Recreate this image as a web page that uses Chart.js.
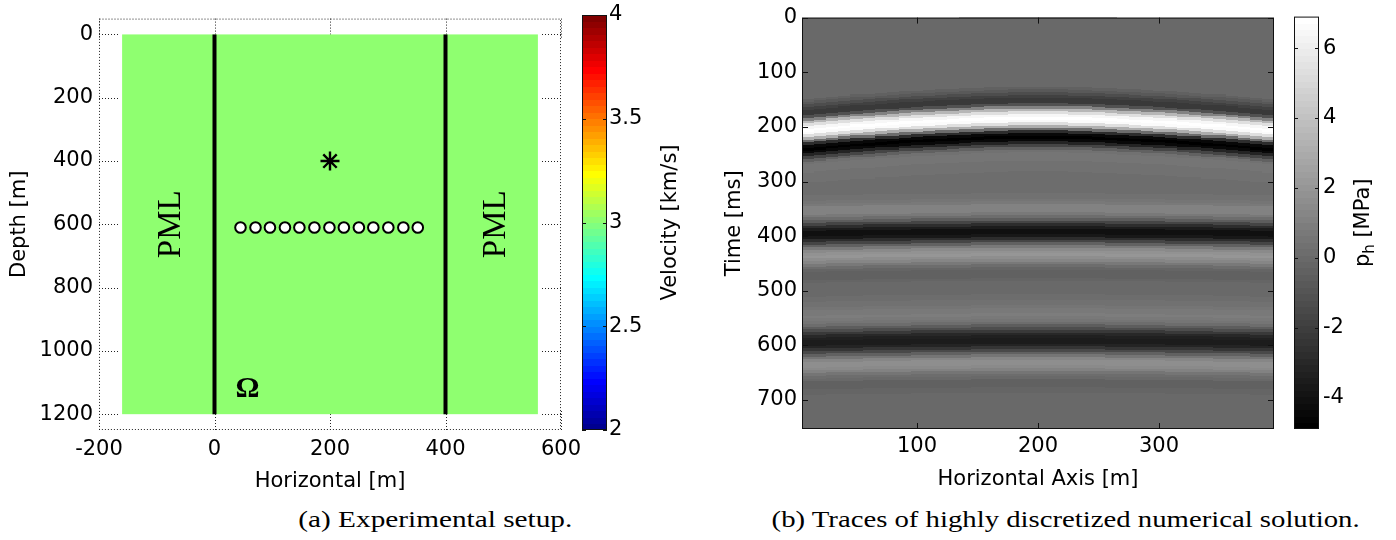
<!DOCTYPE html>
<html>
<head>
<meta charset="utf-8">
<script src="https://cdn.jsdelivr.net/npm/chart.js"></script>
<style>
  body { margin: 0; background: #fff; width: 1396px; height: 540px; position: relative; overflow: hidden; }
  canvas { position: absolute; top: 0; }
  .cap { position: absolute; top: 507px; font: 24px/24px "Liberation Serif", serif; white-space: nowrap; color: #000; transform-origin: center; }
</style>
</head>
<body>
<canvas id="setup" width="600" height="500" style="left:0px"></canvas>
<canvas id="velBar" width="140" height="500" style="left:560px"></canvas>
<canvas id="traces" width="600" height="500" style="left:700px"></canvas>
<canvas id="pBar" width="116" height="500" style="left:1280px"></canvas>
<div class="cap" id="capA">(a) Experimental setup.</div>
<div class="cap" id="capB">(b) Traces of highly discretized numerical solution.</div>
<script>
// ---- (a) experimental setup ----
const horizTicks = [-200, 0, 200, 400, 600];
const depthTicks = [0, 200, 400, 600, 800, 1000, 1200];
const modelX = [-160, 560];          // velocity model incl. PML, m
const modelDepth = [0, 1200];
const velocity = 3.0;                // km/s, homogeneous
const velRange = [2, 4];
const velTicks = [2, 2.5, 3, 3.5, 4];
const pmlBounds = [0, 400];
const source = {x: 200, y: 400};
const receiverX = [45, 71, 96, 122, 147, 173, 199, 224, 250, 275, 301, 327, 352];
const receiverDepth = 610;

// ---- (b) traces ----
const traceX = [10, 20, 30, 40, 50, 60, 70, 80, 90, 100,
  110, 120, 130, 140, 150, 160, 170, 180, 190, 200,
  210, 220, 230, 240, 250, 260, 270, 280, 290, 300,
  310, 320, 330, 340, 350, 360, 370, 380, 390];
const traceTimeMs = [0, 5, 10, 15, 20, 25, 30, 35, 40, 45,
  50, 55, 60, 65, 70, 75, 80, 85, 90, 95,
  100, 105, 110, 115, 120, 125, 130, 135, 140, 145,
  150, 155, 160, 165, 170, 175, 180, 185, 190, 195,
  200, 205, 210, 215, 220, 225, 230, 235, 240, 245,
  250, 255, 260, 265, 270, 275, 280, 285, 290, 295,
  300, 305, 310, 315, 320, 325, 330, 335, 340, 345,
  350, 355, 360, 365, 370, 375, 380, 385, 390, 395,
  400, 405, 410, 415, 420, 425, 430, 435, 440, 445,
  450, 455, 460, 465, 470, 475, 480, 485, 490, 495,
  500, 505, 510, 515, 520, 525, 530, 535, 540, 545,
  550, 555, 560, 565, 570, 575, 580, 585, 590, 595,
  600, 605, 610, 615, 620, 625, 630, 635, 640, 645,
  650, 655, 660, 665, 670, 675, 680, 685, 690, 695,
  700, 705, 710, 715, 720, 725, 730, 735, 740, 745,
  750];
// p_h (MPa) read down the middle trace (x = 200 m)
const traceCentre = [0, 0, 0, 0, 0, 0, 0, 0, 0, 0,
  0, 0, 0, 0, 0, 0, 0, 0, 0, 0,
  0, 0, 0, 0, 0, -0.1, -0.3, -0.7, -1.3, -1.9,
  -2.3, -2.2, -1.2, 1.0, 3.4, 5.4, 6.5, 6.8, 6.6, 5.4,
  3.2, 0.2, -2.8, -4.5, -4.9, -4.4, -3.1, -1.6, -0.4, 0.3,
  0.6, 0.6, 0.5, 0.4, 0.4, 0.4, 0.3, 0.2, 0.1, 0.1,
  0.1, 0.1, 0.1, 0.2, 0.2, 0.3, 0.4, 0.6, 0.8, 1.0,
  1.1, 1.0, 0.7, 0.2, -0.6, -1.6, -2.7, -3.5, -4.0, -4.1,
  -3.7, -2.8, -1.6, -0.4, 0.7, 1.5, 1.9, 2.0, 1.7, 1.2,
  0.7, 0.2, -0.2, -0.4, -0.4, -0.3, -0.2, -0.1, 0, 0,
  0, 0, 0.1, 0.2, 0.3, 0.4, 0.5, 0.7, 0.8, 0.9,
  0.8, 0.5, 0.1, -0.5, -1.3, -2.2, -2.9, -3.4, -3.6, -3.6,
  -3.2, -2.4, -1.4, -0.3, 0.6, 1.3, 1.6, 1.7, 1.5, 1.1,
  0.6, 0.2, -0.1, -0.3, -0.3, -0.3, -0.2, -0.2, -0.1, -0.1,
  -0.1, -0.1, -0.1, -0.1, -0.1, -0.1, -0.1, -0.1, -0.1, -0.1,
  -0.1];
// arrival delay (ms) of each trace relative to x = 200 m
const directShift = [22, 20, 18, 16, 14, 13, 11, 10, 8, 7,
  6, 5, 4, 3, 2, 1, 1, 0, 0, 0,
  0, 0, 1, 1, 2, 3, 4, 5, 6, 7,
  8, 10, 11, 13, 14, 16, 18, 20, 22];
const lateShift = [4, 4, 3, 3, 3, 2, 2, 2, 2, 1,
  1, 1, 1, 1, 0, 0, 0, 0, 0, 0,
  0, 0, 0, 0, 0, 1, 1, 1, 1, 1,
  2, 2, 2, 2, 3, 3, 3, 4, 4];
const timeTicks = [0, 100, 200, 300, 400, 500, 600, 700];
const axisTicks = [100, 200, 300];
const pRange = [-4.9, 6.9];
const pTicks = [-4, -2, 0, 2, 4, 6];

const SANS = '"DejaVu Sans", sans-serif';
const tickFont = {family: SANS, size: 21};
Chart.defaults.font.family = SANS;
Chart.defaults.font.size = 21;
Chart.defaults.color = '#000';

// MATLAB-style 64 level colormaps
function jet64() {
  const m = 64, n = 16, u = [];
  for (let i = 1; i <= n; i++) u.push(i / n);
  for (let i = 1; i < n; i++) u.push(1);
  for (let i = n; i >= 1; i--) u.push(i / n);
  const J = Array.from({length: m}, () => [0, 0, 0]);
  u.forEach((val, k) => {
    const g = 9 + k, r = g + n, b = g - n;
    if (r <= m) J[r - 1][0] = val;
    if (g <= m) J[g - 1][1] = val;
    if (b >= 1) J[b - 1][2] = val;
  });
  return J.map(c => 'rgb(' + c.map(v => Math.round(v * 255)).join(',') + ')');
}
const JET = jet64();
const GRAY = Array.from({length: 64}, (_, k) => { const g = Math.round(k / 63 * 255); return 'rgb(' + g + ',' + g + ',' + g + ')'; });
function cmapIndex(v, range) {
  return Math.max(0, Math.min(63, Math.floor((v - range[0]) / (range[1] - range[0]) * 64)));
}

function upText(ctx, parts, cx, cy) {
  // text reading bottom to top, centred on (cx, cy)
  ctx.save();
  ctx.translate(cx, cy);
  ctx.rotate(-Math.PI / 2);
  ctx.textBaseline = 'middle';
  ctx.textAlign = 'left';
  let total = 0;
  parts.forEach(p => { ctx.font = p.font; p.w = ctx.measureText(p.text).width; total += p.w; });
  let x = -total / 2;
  parts.forEach(p => { ctx.font = p.font; ctx.fillStyle = '#000'; ctx.fillText(p.text, x, p.dy || 0); x += p.w; });
  ctx.restore();
}

const base = {
  responsive: false,
  animation: false,
  events: [],
  plugins: {legend: {display: false}, tooltip: {enabled: false}}
};
function fixedTicks(list) {
  return s => { s.ticks = list.map(v => ({value: v})); };
}

// ---------- panel (a) ----------
const setupPlugin = {
  id: 'setupPlugin',
  beforeDatasetsDraw(chart) {
    const {ctx, chartArea: a, scales: {x, y}} = chart;
    ctx.save();
    ctx.strokeStyle = '#222';
    ctx.lineWidth = 1;
    ctx.setLineDash([1, 2]);
    ctx.strokeRect(a.left + 0.5, a.top + 0.5, a.width - 1, a.height - 1);
    ctx.beginPath();
    horizTicks.forEach(v => {
      const px = Math.round(x.getPixelForValue(v)) + 0.5;
      ctx.moveTo(px, a.top); ctx.lineTo(px, a.top + 21);
      ctx.moveTo(px, a.bottom); ctx.lineTo(px, a.bottom - 21);
    });
    depthTicks.forEach(v => {
      const py = Math.round(y.getPixelForValue(v)) + 0.5;
      ctx.moveTo(a.left, py); ctx.lineTo(a.left + 21, py);
      ctx.moveTo(a.right, py); ctx.lineTo(a.right - 21, py);
    });
    ctx.stroke();
    ctx.setLineDash([]);
    // homogeneous velocity model (drawn over the axes, MATLAB layer bottom)
    ctx.fillStyle = JET[cmapIndex(velocity, velRange)];
    const x0 = x.getPixelForValue(modelX[0]), x1 = x.getPixelForValue(modelX[1]);
    const y0 = y.getPixelForValue(modelDepth[0]), y1 = y.getPixelForValue(modelDepth[1]);
    ctx.fillRect(x0, y0, x1 - x0, y1 - y0);
    ctx.restore();
  },
  afterDatasetsDraw(chart) {
    const {ctx, scales: {x, y}} = chart;
    upText(ctx, [{text: 'PML', font: '33px "Liberation Serif", serif'}], x.getPixelForValue(-74), y.getPixelForValue(600));
    upText(ctx, [{text: 'PML', font: '33px "Liberation Serif", serif'}], x.getPixelForValue(488), y.getPixelForValue(600));
    ctx.save();
    ctx.font = 'bold 30px "Liberation Serif", serif';
    ctx.textAlign = 'center';
    ctx.textBaseline = 'middle';
    ctx.fillStyle = '#000';
    ctx.fillText('Ω', x.getPixelForValue(57), y.getPixelForValue(1120));
    ctx.restore();
  }
};

new Chart(document.getElementById('setup'), {
  type: 'scatter',
  data: {
    datasets: [
      {data: [{x: pmlBounds[0], y: modelDepth[0]}, {x: pmlBounds[0], y: modelDepth[1]}], showLine: true, borderColor: '#000', borderWidth: 4, pointRadius: 0},
      {data: [{x: pmlBounds[1], y: modelDepth[0]}, {x: pmlBounds[1], y: modelDepth[1]}], showLine: true, borderColor: '#000', borderWidth: 4, pointRadius: 0},
      {data: [source], pointStyle: 'star', pointRadius: 9.5, borderColor: '#000', borderWidth: 2.4},
      {data: receiverX.map(rx => ({x: rx, y: receiverDepth})), pointStyle: 'circle', pointRadius: 5.3, backgroundColor: '#fff', borderColor: '#000', borderWidth: 2}
    ]
  },
  options: {
    ...base,
    layout: {padding: {left: 0, top: 16, right: 39, bottom: 0}, autoPadding: false},
    scales: {
      x: {
        type: 'linear', min: -200, max: 600,
        afterBuildTicks: fixedTicks(horizTicks),
        afterFit: s => { s.height = 70; },
        grid: {display: false, drawTicks: false}, border: {display: false},
        ticks: {font: tickFont, color: '#000', padding: 7, maxRotation: 0, autoSkip: false, callback: v => String(v)},
        title: {display: true, text: 'Horizontal [m]', font: tickFont, color: '#000', padding: {top: 0, bottom: 6}}
      },
      y: {
        type: 'linear', reverse: true, min: -50, max: 1250,
        afterBuildTicks: fixedTicks(depthTicks),
        afterFit: s => { s.width = 99; },
        grid: {display: false, drawTicks: false}, border: {display: false},
        ticks: {font: tickFont, color: '#000', padding: 6, autoSkip: false, callback: v => String(v)},
        title: {display: true, text: 'Depth [m]', font: tickFont, color: '#000', padding: {top: 7, bottom: 0}}
      }
    }
  },
  plugins: [setupPlugin]
});

// ---------- colour bars ----------
function colorbar(id, range, ticks, colors, pad, axisWidth, labelPad, titleParts, titleX) {
  return new Chart(document.getElementById(id), {
    type: 'scatter',
    data: {datasets: []},
    options: {
      ...base,
      layout: {padding: pad, autoPadding: false},
      scales: {
        x: {display: false, min: 0, max: 1},
        y: {
          position: 'right', min: range[0], max: range[1],
          afterBuildTicks: fixedTicks(ticks),
          afterFit: s => { s.width = axisWidth; },
          grid: {display: false, drawTicks: false}, border: {display: false},
          ticks: {font: tickFont, color: '#000', padding: labelPad, autoSkip: false, callback: v => String(v)}
        }
      }
    },
    plugins: [{
      id: 'bar',
      beforeDatasetsDraw(chart) {
        const {ctx, chartArea: a, scales: {y}} = chart;
        ctx.save();
        const step = (range[1] - range[0]) / 64;
        for (let k = 0; k < 64; k++) {
          const ya = y.getPixelForValue(range[0] + k * step), yb = y.getPixelForValue(range[0] + (k + 1) * step);
          ctx.fillStyle = colors[k];
          ctx.fillRect(a.left, Math.floor(yb), a.width, Math.ceil(ya) - Math.floor(yb));
        }
        ctx.strokeStyle = '#111';
        ctx.lineWidth = 1;
        ctx.strokeRect(a.left + 0.5, a.top + 0.5, a.width - 1, a.height - 1);
        ctx.beginPath();
        ticks.forEach(v => {
          const py = Math.round(y.getPixelForValue(v)) + 0.5;
          ctx.moveTo(a.left, py); ctx.lineTo(a.left + 4, py);
          ctx.moveTo(a.right, py); ctx.lineTo(a.right - 4, py);
        });
        ctx.stroke();
        ctx.restore();
      },
      afterDraw(chart) {
        const a = chart.chartArea;
        upText(chart.ctx, titleParts, titleX, (a.top + a.bottom) / 2);
      }
    }]
  });
}

colorbar('velBar', velRange, velTicks, JET, {left: 22, top: 15, right: 0, bottom: 70}, 93, 2,
  [{text: 'Velocity [km/s]', font: '21px ' + SANS}], 111);

// ---------- panel (b) ----------
const tracePlugin = {
  id: 'tracePlugin',
  beforeDatasetsDraw(chart) {
    const {ctx, chartArea: a, scales: {x, y}} = chart;
    ctx.save();
    ctx.beginPath();
    ctx.rect(a.left, a.top, a.width, a.height);
    ctx.clip();
    ctx.fillStyle = GRAY[cmapIndex(0, pRange)];
    ctx.fillRect(a.left, a.top, a.width, a.height);
    traceX.forEach((cx, c) => {
      const px0 = Math.round(x.getPixelForValue(cx - 5)), px1 = Math.round(x.getPixelForValue(cx + 5));
      traceTimeMs.forEach((t, r) => {
        const tt = t + (t < 300 ? directShift[c] : lateShift[c]);
        const py0 = Math.floor(y.getPixelForValue(tt - 2.5)), py1 = Math.ceil(y.getPixelForValue(tt + 2.5));
        ctx.fillStyle = GRAY[cmapIndex(traceCentre[r], pRange)];
        ctx.fillRect(px0, py0, px1 - px0, py1 - py0);
      });
    });
    ctx.restore();
  },
  afterDraw(chart) {
    const {ctx, chartArea: a, scales: {x, y}} = chart;
    ctx.save();
    ctx.strokeStyle = '#111';
    ctx.lineWidth = 1;
    ctx.strokeRect(a.left + 0.5, a.top + 0.5, a.width - 1, a.height - 1);
    ctx.beginPath();
    axisTicks.forEach(v => {
      const px = Math.round(x.getPixelForValue(v)) + 0.5;
      ctx.moveTo(px, a.top); ctx.lineTo(px, a.top + 6);
      ctx.moveTo(px, a.bottom); ctx.lineTo(px, a.bottom - 6);
    });
    timeTicks.forEach(v => {
      const py = Math.round(y.getPixelForValue(v)) + 0.5;
      ctx.moveTo(a.left, py); ctx.lineTo(a.left + 6, py);
      ctx.moveTo(a.right, py); ctx.lineTo(a.right - 6, py);
    });
    ctx.stroke();
    ctx.restore();
  }
};

new Chart(document.getElementById('traces'), {
  type: 'scatter',
  data: {datasets: []},
  options: {
    ...base,
    layout: {padding: {left: 0, top: 16, right: 26, bottom: 0}, autoPadding: false},
    scales: {
      x: {
        type: 'linear', min: 5, max: 395,
        afterBuildTicks: fixedTicks(axisTicks),
        afterFit: s => { s.height = 71; },
        grid: {display: false, drawTicks: false}, border: {display: false},
        ticks: {font: tickFont, color: '#000', padding: 5, maxRotation: 0, autoSkip: false, callback: v => String(v)},
        title: {display: true, text: 'Horizontal Axis [m]', font: tickFont, color: '#000', padding: {top: 0, bottom: 8}}
      },
      y: {
        type: 'linear', reverse: true, min: 0, max: 753,
        afterBuildTicks: fixedTicks(timeTicks),
        afterFit: s => { s.width = 102; },
        grid: {display: false, drawTicks: false}, border: {display: false},
        ticks: {font: tickFont, color: '#000', padding: 5, autoSkip: false, callback: v => String(v)},
        title: {display: true, text: 'Time [ms]', font: tickFont, color: '#000', padding: {top: 22, bottom: 0}}
      }
    }
  },
  plugins: [tracePlugin]
});

colorbar('pBar', pRange, pTicks, GRAY, {left: 14, top: 16, right: 0, bottom: 71}, 77, 4,
  [{text: 'p', font: '21px ' + SANS}, {text: 'h', font: '15px ' + SANS, dy: 6}, {text: ' [MPa]', font: '21px ' + SANS}], 84);

// ---------- captions ----------
function placeCaption(id, centre, width) {
  const el = document.getElementById(id);
  const w = el.getBoundingClientRect().width;
  el.style.left = (centre - w / 2) + 'px';
  el.style.transform = 'scaleX(' + (width / w).toFixed(3) + ')';
}
placeCaption('capA', 435, 274);
placeCaption('capB', 1066, 588);
</script>
</body>
</html>
